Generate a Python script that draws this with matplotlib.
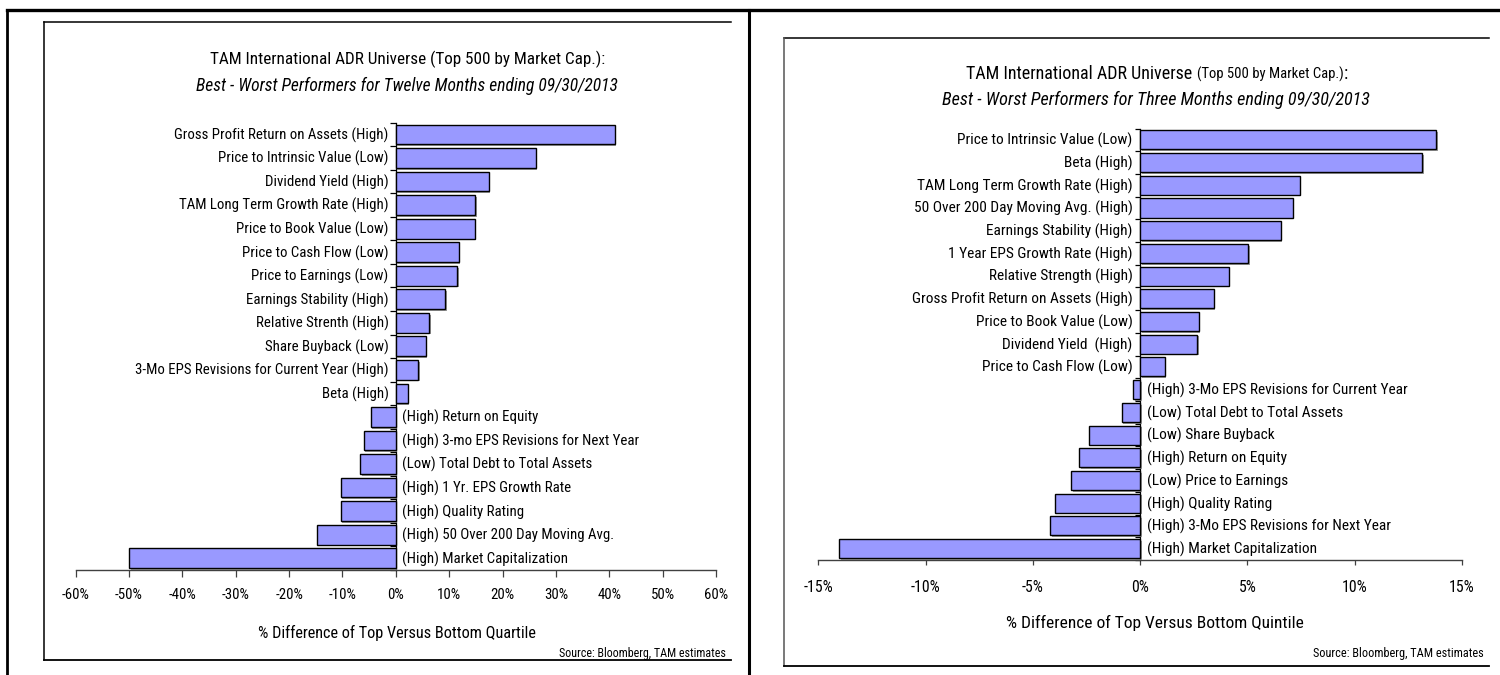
import numpy as np
import matplotlib
matplotlib.use("Agg")
import matplotlib.pyplot as plt
import matplotlib.patheffects as pe
from matplotlib.lines import Line2D
from matplotlib.offsetbox import TextArea, HPacker, AnnotationBbox

plt.rcParams['font.family'] = ['Roboto Condensed', 'Carlito', 'DejaVu Sans']

# ---------------- data ----------------
left_labels = [
    "Gross Profit Return on Assets (High)",
    "Price to Intrinsic Value (Low)",
    "Dividend Yield (High)",
    "TAM Long Term Growth Rate (High)",
    "Price to Book Value (Low)",
    "Price to Cash Flow (Low)",
    "Price to Earnings (Low)",
    "Earnings Stability (High)",
    "Relative Strenth (High)",
    "Share Buyback (Low)",
    "3-Mo EPS Revisions for Current Year (High)",
    "Beta (High)",
    "(High) Return on Equity",
    "(High) 3-mo EPS Revisions for Next Year",
    "(Low) Total Debt to Total Assets",
    "(High) 1 Yr. EPS Growth Rate",
    "(High) Quality Rating",
    "(High) 50 Over 200 Day Moving Avg.",
    "(High) Market Capitalization",
]
left_values = [41.0, 26.2, 17.4, 14.9, 14.8, 11.8, 11.5, 9.3, 6.2, 5.6, 4.2, 2.2,
               -4.7, -6.0, -6.7, -10.3, -10.3, -14.8, -50.0]
left_ticks = [-60, -50, -40, -30, -20, -10, 0, 10, 20, 30, 40, 50, 60]

right_labels = [
    "Price to Intrinsic Value (Low)",
    "Beta (High)",
    "TAM Long Term Growth Rate (High)",
    "50 Over 200 Day Moving Avg. (High)",
    "Earnings Stability (High)",
    "1 Year EPS Growth Rate (High)",
    "Relative Strength (High)",
    "Gross Profit Return on Assets (High)",
    "Price to Book Value (Low)",
    "Dividend Yield  (High)",
    "Price to Cash Flow (Low)",
    "(High) 3-Mo EPS Revisions for Current Year",
    "(Low) Total Debt to Total Assets",
    "(Low) Share Buyback",
    "(High) Return on Equity",
    "(Low) Price to Earnings",
    "(High) Quality Rating",
    "(High) 3-Mo EPS Revisions for Next Year",
    "(High) Market Capitalization",
]
right_values = [13.8, 13.15, 7.44, 7.11, 6.55, 5.04, 4.12, 3.43, 2.72, 2.67, 1.14,
                -0.33, -0.87, -2.38, -2.85, -3.23, -3.99, -4.21, -14.04]
right_ticks = [-15, -10, -5, 0, 5, 10, 15]

left_title1 = "TAM International ADR Universe (Top 500 by Market Cap.):"
left_title2 = "Best - Worst Performers for Twelve Months ending 09/30/2013"
right_title1_big = "TAM International ADR Universe "
right_title1_small = "(Top 500 by Market Cap.)"
right_title1_end = ":"
right_title2 = "Best - Worst Performers for Three Months ending 09/30/2013"
left_xlabel = "% Difference of Top Versus Bottom Quartile"
right_xlabel = "% Difference of Top Versus Bottom Quintile"
source = "Source: Bloomberg, TAM estimates"

BAR = "#9999FF"

W, H = 1500, 675
fig = plt.figure(figsize=(W / 100, H / 100), dpi=100)
fig.patch.set_facecolor("white")
renderer = fig.canvas.get_renderer()


def fit(s, target_px, **kw):
    """font size (pt) that makes string s about target_px wide"""
    t = fig.text(0, 0, s, fontsize=10, **kw)
    w = t.get_window_extent(renderer=renderer).width
    t.remove()
    return 10.0 * target_px / w


def fx(x):
    return x / W


def fy(y):
    return 1 - y / H


def px_axes(x0, x1, ytop, ybot):
    return fig.add_axes([fx(x0), fy(ybot), (x1 - x0) / W, (ybot - ytop) / H])


def draw_panel(ax, labels, values, ticks, lab_fs, tick_fs, ytick_len, xtick_len,
               pad, off_pos, off_neg):
    n = len(values)
    y = np.arange(n)
    bars = ax.barh(y, values, height=0.84, color=BAR, edgecolor="black",
                   linewidth=1.0, zorder=3)
    for b in bars:
        b.set_path_effects([pe.SimplePatchShadow(offset=(1.2, -1.2),
                                                 shadow_rgbFace="#808080", alpha=0.8),
                            pe.Normal()])
    ax.set_xlim(ticks[0], ticks[-1])
    ax.set_ylim(n - 0.5, -0.5)
    for s in ["top", "right"]:
        ax.spines[s].set_visible(False)
    ax.spines["left"].set_position(("data", 0))
    ax.spines["left"].set_color("black")
    ax.spines["left"].set_linewidth(0.9)
    ax.spines["bottom"].set_color("#404040")
    ax.spines["bottom"].set_linewidth(1.0)
    ax.set_yticks(np.arange(-0.5, n, 1.0))
    ax.set_yticklabels([])
    ax.tick_params(axis="y", direction="out", length=ytick_len, width=0.9, color="black")
    ax.set_xticks(ticks)
    ax.set_xticklabels([f"{t}%" for t in ticks], fontsize=tick_fs)
    ax.tick_params(axis="x", direction="out", length=xtick_len, width=0.9,
                   color="#404040", pad=pad)
    ax.set_facecolor("none")
    for i, (lab, v) in enumerate(zip(labels, values)):
        if v >= 0:
            ax.annotate(lab, xy=(0, i), xytext=(-off_pos, -0.5), textcoords="offset points",
                        ha="right", va="center", fontsize=lab_fs)
        else:
            ax.annotate(lab, xy=(0, i), xytext=(off_neg, -0.5), textcoords="offset points",
                        ha="left", va="center", fontsize=lab_fs)


# ---------------- frames ----------------
def fline(xs, ys, lw, color="black"):
    fig.add_artist(Line2D([fx(x) for x in xs], [fy(y) for y in ys], lw=lw,
                          color=color, transform=fig.transFigure,
                          solid_capstyle="projecting"))


fline([7, 1500], [10, 10], 2.4)
fline([7, 7], [10, 675], 2.0)
fline([749, 749], [10, 675], 2.2)
# left inner box
fline([44, 731], [22, 22], 1.1)
fline([44, 44], [22, 660], 1.1)
fline([44, 731], [660, 660], 1.3)
# right inner box
fline([784, 1489], [38, 38], 1.1)
fline([784, 784], [38, 666], 1.1, "#555555")
fline([784, 1489], [666, 666], 1.3)

# ---------------- font sizes fitted to the reference widths ----------------
fs_lab_L = fit(left_labels[10], 252)
fs_lab_R = fit(right_labels[11], 261)
fs_tick_L = fit("-60%", 27.7)
fs_tick_R = fit("-15%", 29.7)
fs_t1_L = fit(left_title1, 392)
fs_t2_L = fit(left_title2, 421, style="italic")
fs_t1_R_big = fit(right_title1_big.strip(), 225)
fs_t1_R_small = fit(right_title1_small, 146)
fs_t2_R = fit(right_title2, 427, style="italic")
fs_xl_L = fit(left_xlabel, 278)
fs_xl_R = fit(right_xlabel, 296)
fs_src_L = fit(source, 166)
fs_src_R = fit(source, 170)

# ---------------- left panel ----------------
axL = px_axes(75.6, 716.0, 122.7, 570.0)
draw_panel(axL, left_labels, left_values, left_ticks, fs_lab_L, fs_tick_L,
           4.3, 4.8, 8.5, 5.2, 4.5)
fig.text(fx(408), fy(59), left_title1, ha="center", va="center", fontsize=fs_t1_L)
fig.text(fx(407), fy(86), left_title2, ha="center", va="center", fontsize=fs_t2_L,
         style="italic")
fig.text(fx(396.5), fy(632.7), left_xlabel, ha="center", va="center", fontsize=fs_xl_L)
fig.text(fx(726), fy(653), source, ha="right", va="center", fontsize=fs_src_L)

# ---------------- right panel ----------------
axR = px_axes(818.4, 1462.0, 128.5, 560.0)
draw_panel(axR, right_labels, right_values, right_ticks, fs_lab_R, fs_tick_R,
           3.3, 3.6, 10.5, 5.5, 4.8)
pack = HPacker(children=[TextArea(right_title1_big, textprops=dict(fontsize=fs_t1_R_big)),
                         TextArea(right_title1_small, textprops=dict(fontsize=fs_t1_R_small)),
                         TextArea(right_title1_end, textprops=dict(fontsize=fs_t1_R_big))],
               align="baseline", pad=0, sep=0)
ab = AnnotationBbox(pack, (fx(1157), fy(74)), xycoords="figure fraction",
                    box_alignment=(0.5, 0.5), frameon=False, pad=0)
fig.add_artist(ab)
fig.text(fx(1156), fy(100), right_title2, ha="center", va="center", fontsize=fs_t2_R,
         style="italic")
fig.text(fx(1155), fy(623), right_xlabel, ha="center", va="center", fontsize=fs_xl_R)
fig.text(fx(1484), fy(654), source, ha="right", va="center", fontsize=fs_src_R)

fig.savefig("out.png", dpi=100, facecolor="white")
